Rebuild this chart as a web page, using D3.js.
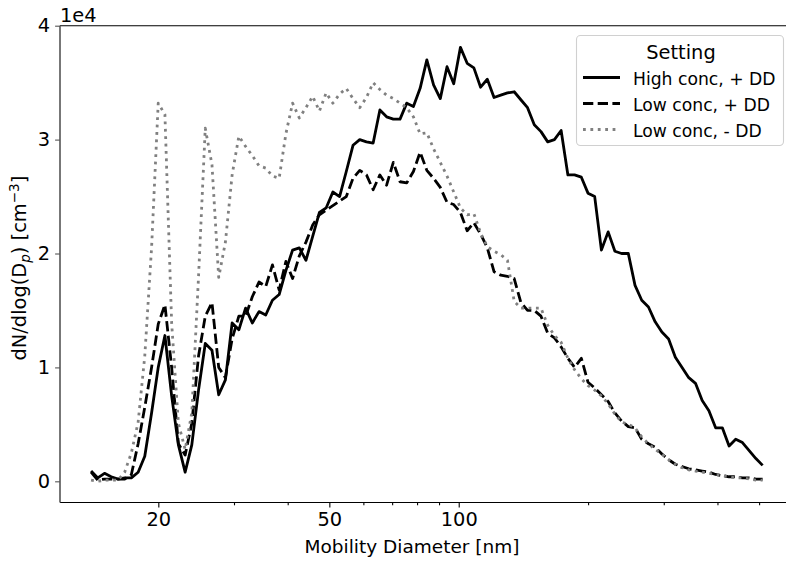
<!DOCTYPE html>
<html>
<head>
<meta charset="utf-8">
<script src="https://cdn.jsdelivr.net/npm/d3@7"></script>
<style>
    body { margin: 0; background: #fff; }
    text { font-family: "DejaVu Sans", sans-serif; fill: #000; }
</style>
</head>
<body>
<div id="chart"></div>
<script>
// mobility diameter bins [nm]
const diameters = [
    13.95, 14.46, 14.99, 15.54, 16.11, 16.70, 17.31, 17.95, 18.60, 19.29,
    19.99, 20.72, 21.48, 22.27, 23.09, 23.93, 24.81, 25.72, 26.66, 27.64,
    28.65, 29.70, 30.79, 31.92, 33.09, 34.30, 35.56, 36.86, 38.21, 39.61,
    41.06, 42.57, 44.11, 45.73, 47.41, 49.15, 50.95, 52.82, 54.75, 56.76,
    58.84, 61.00, 63.23, 65.55, 67.95, 70.44, 73.02, 75.70, 78.45, 81.32,
    84.30, 87.39, 90.60, 93.92, 97.36, 100.93, 104.63, 108.46, 112.44, 116.56,
    120.83, 125.26, 129.85, 134.61, 139.5, 144.6, 149.9, 155.4, 161.1, 167.0,
    173.1, 179.5, 186.0, 192.9, 199.9, 207.2, 214.8, 222.7, 230.9, 239.3,
    248.1, 257.2, 266.6, 276.4, 286.5, 297.0, 307.9, 319.2, 330.9, 343.0,
    355.6, 368.6, 382.1, 396.1, 410.6, 425.7, 441.1, 457.3, 474.1, 491.5,
    509.5
];

// dN/dlog(Dp), in units of 1e4 cm^-3
const highConcDD = [
    0.09, 0.03, 0.07, 0.04, 0.02, 0.03, 0.03, 0.08, 0.22, 0.60,
    1.00, 1.28, 0.75, 0.32, 0.08, 0.32, 0.80, 1.21, 1.15, 0.76,
    0.89, 1.39, 1.33, 1.52, 1.39, 1.49, 1.46, 1.59, 1.64, 1.85,
    2.03, 2.05, 1.94, 2.15, 2.36, 2.40, 2.54, 2.50, 2.72, 2.95,
    3.00, 2.98, 2.97, 3.26, 3.20, 3.18, 3.18, 3.32, 3.29, 3.45,
    3.70, 3.48, 3.36, 3.64, 3.49, 3.81, 3.67, 3.63, 3.46, 3.53,
    3.37, 3.39, 3.41, 3.42, 3.35, 3.28, 3.13, 3.07, 2.98, 3.00,
    3.08, 2.69, 2.69, 2.67, 2.53, 2.50, 2.03, 2.19, 2.02, 2.00,
    2.00, 1.72, 1.59, 1.53, 1.40, 1.31, 1.25, 1.09, 1.00, 0.91,
    0.86, 0.71, 0.62, 0.47, 0.47, 0.31, 0.37, 0.34, 0.27, 0.20,
    0.14
];

const lowConcDD = [
    0.08, 0.01, 0.02, 0.02, 0.02, 0.02, 0.06, 0.33, 0.65, 1.00,
    1.38, 1.55, 1.00, 0.33, 0.23, 0.51, 1.10, 1.45, 1.57, 1.00,
    0.91, 1.25, 1.45, 1.45, 1.62, 1.75, 1.71, 1.90, 1.68, 1.93,
    1.78, 1.98, 2.10, 2.25, 2.34, 2.38, 2.42, 2.46, 2.50, 2.66,
    2.73, 2.69, 2.56, 2.69, 2.60, 2.80, 2.63, 2.62, 2.72, 2.89,
    2.73, 2.66, 2.58, 2.45, 2.43, 2.36, 2.20, 2.27, 2.17, 2.05,
    1.84, 1.81, 1.80, 1.78, 1.57, 1.50, 1.50, 1.45, 1.30, 1.26,
    1.18, 1.08, 1.00, 1.08, 0.87, 0.82, 0.76, 0.70, 0.60, 0.53,
    0.48, 0.47, 0.37, 0.33, 0.30, 0.24, 0.19, 0.15, 0.13, 0.11,
    0.10, 0.09, 0.08, 0.06, 0.05, 0.04, 0.04, 0.03, 0.03, 0.02,
    0.02
];

const lowConcNoDD = [
    0.01, 0.00, 0.01, 0.01, 0.01, 0.08, 0.25, 0.52, 1.10, 2.05,
    3.32, 3.22, 1.39, 0.51, 0.28, 0.60, 1.80, 3.10, 2.78, 1.79,
    2.10, 2.69, 3.03, 2.94, 2.86, 2.77, 2.75, 2.68, 2.66, 3.05,
    3.32, 3.19, 3.28, 3.38, 3.25, 3.41, 3.32, 3.40, 3.45, 3.36,
    3.28, 3.37, 3.50, 3.44, 3.39, 3.36, 3.32, 3.28, 3.20, 3.05,
    3.06, 2.92, 2.80, 2.68, 2.54, 2.40, 2.34, 2.35, 2.18, 2.06,
    2.02, 1.99, 1.94, 1.58, 1.52, 1.52, 1.52, 1.52, 1.37, 1.28,
    1.22, 1.08, 0.98, 0.90, 0.84, 0.80, 0.75, 0.68, 0.59, 0.52,
    0.50, 0.47, 0.39, 0.33, 0.28, 0.24, 0.19, 0.15, 0.12, 0.10,
    0.09, 0.08, 0.07, 0.06, 0.05, 0.04, 0.03, 0.03, 0.02, 0.01,
    0.01
];

const seriesNames = ["High conc, + DD", "Low conc, + DD", "Low conc, - DD"];
const legendTitle = "Setting";
const xMajorTicks = [20, 50, 100];
const xMinorTicks = [30, 40, 60, 70, 80, 90, 200, 300, 400, 500];
const yTicks = [0, 1, 2, 3, 4];
const xDomain = [11.81, 590];
const yDomain = [-0.186, 4];

const width = 786, height = 561;
const plot = { left: 60, right: 790, top: 25.7, bottom: 502.5 };

const svg = d3.select("#chart").append("svg")
    .attr("width", width)
    .attr("height", height);

const xScale = d3.scaleLog()
    .domain(xDomain)
    .range([plot.left, plot.right]);

const yScale = d3.scaleLinear()
    .domain(yDomain)
    .range([plot.bottom, plot.top]);

svg.append("clipPath").attr("id", "plot-clip")
    .append("rect")
    .attr("x", plot.left).attr("y", plot.top)
    .attr("width", plot.right - plot.left)
    .attr("height", plot.bottom - plot.top);

// lines
const series = [
    { name: seriesNames[0], values: highConcDD, color: "#000", dash: null },
    { name: seriesNames[1], values: lowConcDD, color: "#000", dash: "10.3,4.4" },
    { name: seriesNames[2], values: lowConcNoDD, color: "#808080", dash: "2.8,4.6" }
];

const lineGen = d3.line()
    .x(d => xScale(d.x))
    .y(d => yScale(d.y));

const linesG = svg.append("g").attr("clip-path", "url(#plot-clip)");
series.forEach(s => {
    const pts = diameters.map((d, i) => ({ x: d, y: s.values[i] }));
    linesG.append("path")
        .datum(pts)
        .attr("d", lineGen)
        .style("fill", "none")
        .style("stroke", s.color)
        .style("stroke-width", 2.8)
        .style("stroke-linejoin", "round")
        .style("stroke-dasharray", s.dash);
});

// axes
const xAxisG = svg.append("g")
    .attr("transform", `translate(0, ${plot.bottom})`)
    .call(d3.axisBottom(xScale)
        .tickValues(xMajorTicks)
        .tickFormat(d3.format("d"))
        .tickSize(4.9)
        .tickPadding(5));

svg.append("g")
    .attr("transform", `translate(0, ${plot.bottom})`)
    .call(d3.axisBottom(xScale)
        .tickValues(xMinorTicks)
        .tickFormat("")
        .tickSize(2.8))
    .select(".domain").remove();

const yAxisG = svg.append("g")
    .attr("transform", `translate(${plot.left}, 0)`)
    .call(d3.axisLeft(yScale)
        .tickValues(yTicks)
        .tickFormat(d3.format("d"))
        .tickSize(4.9)
        .tickPadding(5));

xAxisG.select(".domain").remove();
yAxisG.select(".domain").remove();
svg.selectAll(".tick line").attr("stroke", "#000").attr("stroke-width", 1.1);
svg.selectAll(".tick text")
    .style("font-family", "DejaVu Sans")
    .style("font-size", "19.4px");
yAxisG.selectAll(".tick line").attr("stroke", "#555");

// spines
svg.append("line")
    .attr("x1", plot.left).attr("x2", plot.right)
    .attr("y1", plot.top).attr("y2", plot.top)
    .style("stroke", "#000").style("stroke-width", 1.1);
svg.append("line")
    .attr("x1", plot.left).attr("x2", plot.right)
    .attr("y1", plot.bottom).attr("y2", plot.bottom)
    .style("stroke", "#000").style("stroke-width", 1.1);
svg.append("line")
    .attr("x1", plot.left).attr("x2", plot.left)
    .attr("y1", plot.top).attr("y2", plot.bottom)
    .style("stroke", "#555").style("stroke-width", 1.6);

// offset text
svg.append("text")
    .attr("x", plot.left)
    .attr("y", 22)
    .style("font-size", "19.4px")
    .text("1e4");

// axis labels
svg.append("text")
    .attr("x", 412)
    .attr("y", 553)
    .attr("text-anchor", "middle")
    .style("font-size", "18.5px")
    .text("Mobility Diameter [nm]");

const yLabel = svg.append("text")
    .attr("transform", `translate(26, ${(plot.top + plot.bottom) / 2 + 4}) rotate(-90)`)
    .attr("text-anchor", "middle")
    .style("font-size", "19.4px");
yLabel.append("tspan").text("dN/dlog(D");
yLabel.append("tspan").attr("dy", 4).style("font-size", "13.6px").style("font-style", "italic").text("p");
yLabel.append("tspan").attr("dy", -4).text(") [cm");
yLabel.append("tspan").attr("dy", -7.5).style("font-size", "13.6px").text("\u22123");
yLabel.append("tspan").attr("dy", 7.5).text("]");

// legend
const legend = svg.append("g");
legend.append("rect")
    .attr("x", 576.5).attr("y", 35.5)
    .attr("width", 207).attr("height", 110)
    .attr("rx", 4)
    .style("fill", "#fff").style("fill-opacity", 0.8)
    .style("stroke", "#d0d0d0").style("stroke-width", 1.1);

legend.append("text")
    .attr("x", 681).attr("y", 59)
    .attr("text-anchor", "middle")
    .style("font-size", "19.4px")
    .text(legendTitle);

series.forEach((s, i) => {
    const yy = 77.5 + i * 26;
    legend.append("line")
        .attr("x1", 583).attr("x2", 620)
        .attr("y1", yy).attr("y2", yy)
        .style("stroke", s.color)
        .style("stroke-width", 2.8)
        .style("stroke-dasharray", s.dash);
    legend.append("text")
        .attr("x", 633).attr("y", yy + 7)
        .style("font-size", "17.2px")
        .text(s.name);
});
</script>
</body>
</html>
